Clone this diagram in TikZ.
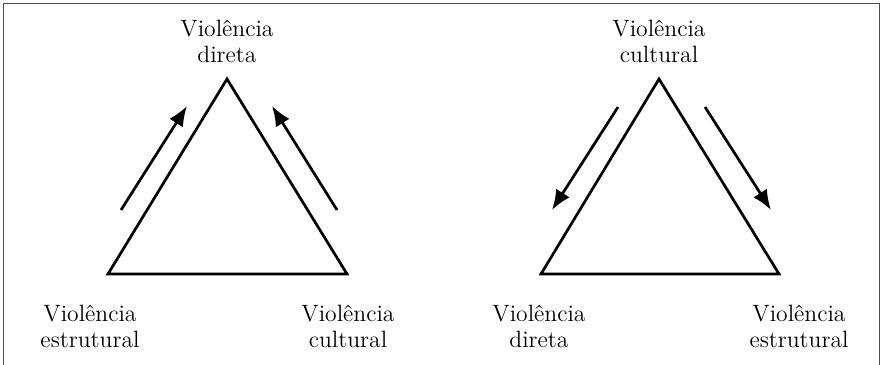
\documentclass[tikz,border=0pt]{standalone}
\usetikzlibrary{arrows.meta}
\begin{document}
\begin{tikzpicture}[x=0.5pt,y=-0.5pt,inner sep=0pt,outer sep=0pt,line width=1.35pt,
vlabel/.style={align=center,anchor=base,font=\fontsize{11.8}{12.8}\selectfont},
flow/.style={-{Latex[length=10pt,width=8pt]}}]
\useasboundingbox (0,0) rectangle (881,364);
\draw[thin,black!70] (3,368) |- (879,3) -- (879,368);
% left triangle
\draw (227,79) coordinate (dirL);
\draw (108,274) coordinate (estL);
\draw (347,274) coordinate (culL);
\draw (dirL) -- (estL) -- (culL) -- cycle;
\draw (227,62) node[vlabel] (tDirL) {Violência\\direta};
\draw (90,347) node[vlabel] (tEstL) {Violência\\estrutural};
\draw (348,347) node[vlabel] (tCulL) {Violência\\cultural};
\draw (121,210) coordinate (a1) (187,106) coordinate (a2);
\draw (337,210) coordinate (a3) (272,106) coordinate (a4);
\draw[flow] (a1) -- (a2);
\draw[flow] (a3) -- (a4);
% right triangle
\draw (659,79) coordinate (culR);
\draw (541,274) coordinate (dirR);
\draw (779,274) coordinate (estR);
\draw (culR) -- (dirR) -- (estR) -- cycle;
\draw (659,62) node[vlabel] (tCulR) {Violência\\cultural};
\draw (539,347) node[vlabel] (tDirR) {Violência\\direta};
\draw (799,347) node[vlabel] (tEstR) {Violência\\estrutural};
\draw (618,107) coordinate (b1) (552,210) coordinate (b2);
\draw (705,107) coordinate (b3) (771,210) coordinate (b4);
\draw[flow] (b1) -- (b2);
\draw[flow] (b3) -- (b4);
\end{tikzpicture}
\end{document}
